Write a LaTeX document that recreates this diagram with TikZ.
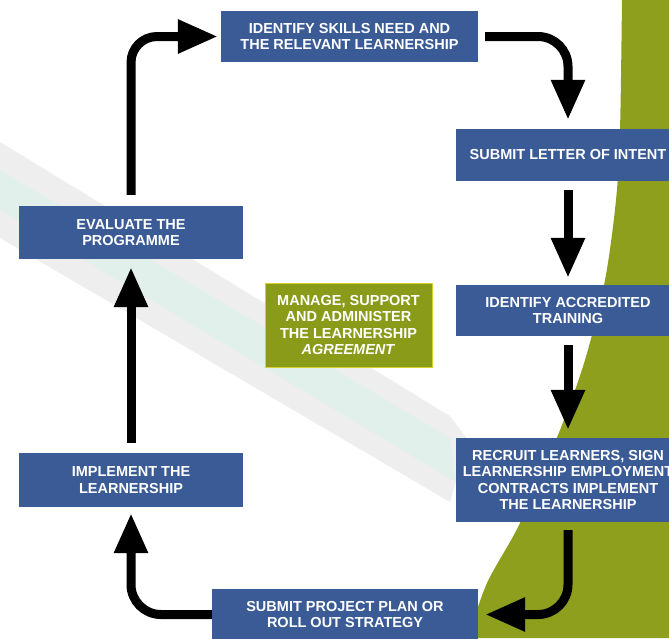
\documentclass[tikz,border=0pt]{standalone}
\usepackage{fontspec}
\setmainfont{Liberation Sans}
\usetikzlibrary{arrows.meta}
\definecolor{boxblue}{RGB}{58,91,150}
\definecolor{olive}{RGB}{142,159,30}
\definecolor{boxgreen}{RGB}{138,155,26}
\definecolor{swgray}{RGB}{238,238,238}
\definecolor{swteal}{RGB}{226,240,235}
\tikzset{
  stepbox/.style={rectangle, fill=boxblue, text=white, align=center,
    inner sep=0pt, font=\fontsize{14.5}{16.5}\selectfont\bfseries},
  midbox/.style={stepbox, fill=boxgreen, draw=yellow!60!boxgreen, line width=1pt},
  flow/.style={line width=9pt, -{Triangle[width=32pt,length=40pt]}},
}
\begin{document}
\begin{tikzpicture}[x=1pt,y=-1pt]
\useasboundingbox (0,0) rectangle (669,638);
\clip (0,0) rectangle (669,638);
% background swoosh
\fill[swgray] (0,142) -- (450,416) -- (468,440) -- (450,502) -- (0,238) -- cycle;
\fill[swteal] (0,170) -- (450,438) -- (456,482) -- (0,210) -- cycle;
% green background
\fill[olive] plot[smooth] coordinates {(622,0) (620,130) (616,200) (605,280) (585,360) (560,430) (520,523) (487,583) (468,638)}
  -- (669,638) -- (669,0) -- cycle;
% boxes
\node[stepbox, minimum width=257pt, minimum height=51pt] (skills) at (349.5,36.5)
  {IDENTIFY SKILLS NEED AND\\THE RELEVANT LEARNERSHIP};
\node[stepbox, minimum width=224pt, minimum height=52pt] (letter) at (568,155)
  {SUBMIT LETTER OF INTENT};
\node[stepbox, minimum width=224pt, minimum height=51pt] (accred) at (568,310.5)
  {IDENTIFY ACCREDITED\\TRAINING};
\node[stepbox, minimum width=224pt, minimum height=84pt] (recruit) at (568,480)
  {RECRUIT LEARNERS, SIGN\\LEARNERSHIP EMPLOYMENT\\CONTRACTS IMPLEMENT\\THE LEARNERSHIP};
\node[stepbox, minimum width=266pt, minimum height=51pt] (project) at (345,614.5)
  {SUBMIT PROJECT PLAN OR\\ROLL OUT STRATEGY};
\node[stepbox, minimum width=224pt, minimum height=54pt] (implement) at (131,480)
  {IMPLEMENT THE\\LEARNERSHIP};
\node[stepbox, minimum width=224pt, minimum height=53pt] (evaluate) at (131,232.5)
  {EVALUATE THE\\PROGRAMME};
\node[midbox, minimum width=167pt, minimum height=84pt] (manage) at (348.5,325)
  {MANAGE, SUPPORT\\AND ADMINISTER\\THE LEARNERSHIP\\\textit{AGREEMENT}};
% arrows
\draw[flow, rounded corners=26pt, shorten <=11pt, shorten >=3pt] (evaluate.north) |- (skills.west);
\draw[flow, rounded corners=30pt, shorten <=7pt, shorten >=9pt] (skills.east) -| (letter.north);
\draw[flow, shorten <=9pt, shorten >=7pt] (letter.south) -- (accred.north);
\draw[flow, shorten <=9pt, shorten >=8pt] (accred.south) -- (recruit.north);
\draw[flow, rounded corners=30pt, shorten <=8pt, shorten >=7pt] (recruit.south) |- (project.east);
\draw[flow, rounded corners=30pt, shorten >=6pt] (project.west) -| (implement.south);
\draw[flow, shorten <=10pt, shorten >=8pt] (implement.north) -- (evaluate.south);
\end{tikzpicture}
\end{document}
